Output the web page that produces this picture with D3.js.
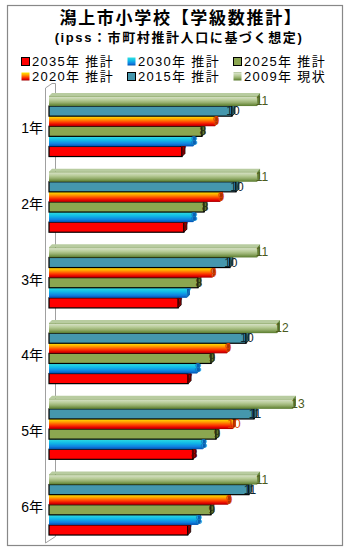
<!DOCTYPE html>
<html>
<head>
<meta charset="utf-8">
<script src="https://cdn.jsdelivr.net/npm/d3@7"></script>
<style>
  html, body { margin: 0; padding: 0; background: #fff; }
  svg { display: block; }
  text { font-family: "Liberation Sans", "Noto Sans CJK JP", sans-serif; }
</style>
</head>
<body>
<svg id="chart" width="350" height="550"></svg>
<script>
// Grades and projection series (class counts per grade)
const categories = ["1年", "2年", "3年", "4年", "5年", "6年"];
const seriesNames = ["2009年 現状", "2015年 推計", "2020年 推計", "2025年 推計", "2030年 推計", "2035年 推計"];
const v2009 = [10.95, 10.95, 10.95, 12.0, 12.84, 10.95];
const v2015 = [9.63, 9.84, 9.52, 10.37, 10.79, 10.52];
const v2020 = [8.74, 9.0, 8.6, 9.37, 9.68, 9.42];
const v2025 = [8.05, 8.16, 7.84, 8.53, 8.79, 8.52];
const v2030 = [7.58, 7.58, 7.26, 7.79, 8.1, 7.84];
const v2035 = [7.0, 7.1, 6.8, 7.32, 7.58, 7.3];
const legendOrder = ["2035年 推計", "2030年 推計", "2025年 推計", "2020年 推計", "2015年 推計", "2009年 現状"];

const valuesBySeries = {
  "2009年 現状": v2009, "2015年 推計": v2015, "2020年 推計": v2020,
  "2025年 推計": v2025, "2030年 推計": v2030, "2035年 推計": v2035
};

const style = {
  "2009年 現状": { fill: "url(#g2009)", side: "#6a8a40", top: "#b8cca0", stroke: "none", label: "#4a5a20", dx: 5 },
  "2015年 推計": { fill: "#4597ad", side: "#2f6f80", top: "#6ab0c4", stroke: "#000", label: "#0c2630", dx: 1 },
  "2020年 推計": { fill: "url(#g2020)", side: "#b03000", top: "#ffd000", stroke: "none", label: "#d84000", dx: 1 },
  "2025年 推計": { fill: "#8ba650", side: "#5f7830", top: "#a8c070", stroke: "#000", label: "#2c3614", dx: 1 },
  "2030年 推計": { fill: "url(#g2030)", side: "#0a60b0", top: "#40e0e8", stroke: "none", label: "#1578c0", dx: 1 },
  "2035年 推計": { fill: "#ff0000", side: "#a00000", top: "#ff5050", stroke: "#000", label: "#600000", dx: 1 }
};

const svg = d3.select("#chart");
const defs = svg.append("defs");

function grad(id, stops) {
  const g = defs.append("linearGradient").attr("id", id)
    .attr("x1", 0).attr("y1", 0).attr("x2", 0).attr("y2", 1);
  stops.forEach(([o, c]) => g.append("stop").attr("offset", o).attr("stop-color", c));
}
grad("g2009", [["0%", "#7a9a50"], ["12%", "#d2dec0"], ["40%", "#b8cc98"], ["65%", "#98b070"], ["88%", "#6e8e42"], ["100%", "#5a7a30"]]);
grad("g2020", [["0%", "#ffe800"], ["30%", "#ffa000"], ["60%", "#ff4000"], ["85%", "#e00000"], ["100%", "#a00000"]]);
grad("g2030", [["0%", "#30e0e0"], ["40%", "#10b8e8"], ["75%", "#1080e0"], ["100%", "#0050b0"]]);

// Outer frame
svg.append("rect").attr("x", 7.5).attr("y", 5.5).attr("width", 335).attr("height", 540)
  .attr("fill", "#fff").attr("stroke", "#888").attr("stroke-width", 1.2);

// Title and subtitle
svg.append("text").attr("x", 181).attr("y", 24).attr("text-anchor", "middle")
  .attr("font-size", 17).attr("font-weight", "bold").attr("letter-spacing", 1.7)
  .attr("font-family", "'Noto Sans CJK JP', sans-serif")
  .text("潟上市小学校【学級数推計】");
svg.append("text").attr("x", 179).attr("y", 42).attr("text-anchor", "middle")
  .attr("font-size", 13).attr("font-weight", "bold").attr("letter-spacing", 1.6)
  .attr("font-family", "'Noto Sans CJK JP', sans-serif")
  .text("(ipss：市町村推計人口に基づく想定)");

// Legend: three columns, two rows
const legCols = [21, 127, 233];
const legRows = [57, 72];
const legend = svg.append("g");
legendOrder.forEach((name, i) => {
  const cx = legCols[i % 3], cy = legRows[Math.floor(i / 3)];
  const st = style[name];
  legend.append("rect").attr("x", cx + 0.5).attr("y", cy + 0.5).attr("width", 8).attr("height", 8)
    .attr("fill", st.fill).attr("stroke", st.stroke === "none" ? "none" : "#000");
  legend.append("text").attr("x", cx + 11).attr("y", cy + 9)
    .attr("font-size", 13).attr("letter-spacing", 1.3).text(name);
});

// Scales
const y = d3.scaleBand().domain(categories).range([88.4, 542.6]).paddingInner(0.2).paddingOuter(0.1);
const yInner = d3.scaleBand().domain(seriesNames).range([0, y.bandwidth()]);
const x = d3.scaleLinear().domain([0, 14]).range([49, 49 + 14 * 19]);
const depth = 3;

// 3D wall edges
const axisG = svg.append("g").attr("fill", "none").attr("stroke", "#a0a0a0").attr("stroke-width", 1);
axisG.append("path").attr("d", "M45.5,543 L45.5,88 L52,83.5 L55.5,83.5");
axisG.append("path").attr("d", "M55.5,83.5 L55.5,536.5 L45.5,543");

// Category labels
svg.append("g").selectAll("text").data(categories).join("text")
  .attr("x", 43).attr("y", d => y(d) + y.bandwidth() / 2 + 7)
  .attr("text-anchor", "end").attr("font-size", 14)
  .attr("font-family", "'Noto Sans CJK JP', sans-serif")
  .text(d => d);

// Bars: draw bottom series first so upper bars overlap the lower top faces
const barsG = svg.append("g");
categories.forEach((cat, ci) => {
  const drawOrder = seriesNames.slice().reverse();
  drawOrder.forEach(name => {
    const v = valuesBySeries[name][ci];
    const st = style[name];
    const x0 = x(0), x1 = x(v);
    const top = y(cat) + yInner(name);
    const h = yInner.bandwidth();
    const g = barsG.append("g");
    // top face
    g.append("path")
      .attr("d", `M${x0},${top} L${x0 + depth},${top - depth} L${x1 + depth},${top - depth} L${x1},${top} Z`)
      .attr("fill", st.top);
    // front face
    g.append("rect").attr("x", x0).attr("y", top).attr("width", x1 - x0).attr("height", h)
      .attr("fill", st.fill)
      .attr("stroke", st.stroke).attr("stroke-width", st.stroke === "none" ? 0 : 1.2);
    // side face
    g.append("path")
      .attr("d", `M${x1},${top} L${x1 + depth},${top - depth} L${x1 + depth},${top + h - depth} L${x1},${top + h} Z`)
      .attr("fill", st.side)
      .attr("stroke", st.stroke === "none" ? "none" : "#000").attr("stroke-width", 0.8);
  });
});

// Value labels at bar ends
const labelsG = svg.append("g");
categories.forEach((cat, ci) => {
  seriesNames.forEach(name => {
    const v = valuesBySeries[name][ci];
    labelsG.append("text")
      .attr("x", x(v) + style[name].dx)
      .attr("y", y(cat) + yInner(name) + yInner.bandwidth() / 2 + 4)
      .attr("text-anchor", "middle").attr("font-size", 12)
      .attr("fill", style[name].label)
      .text(d3.format(".0f")(v));
  });
});
</script>
</body>
</html>
